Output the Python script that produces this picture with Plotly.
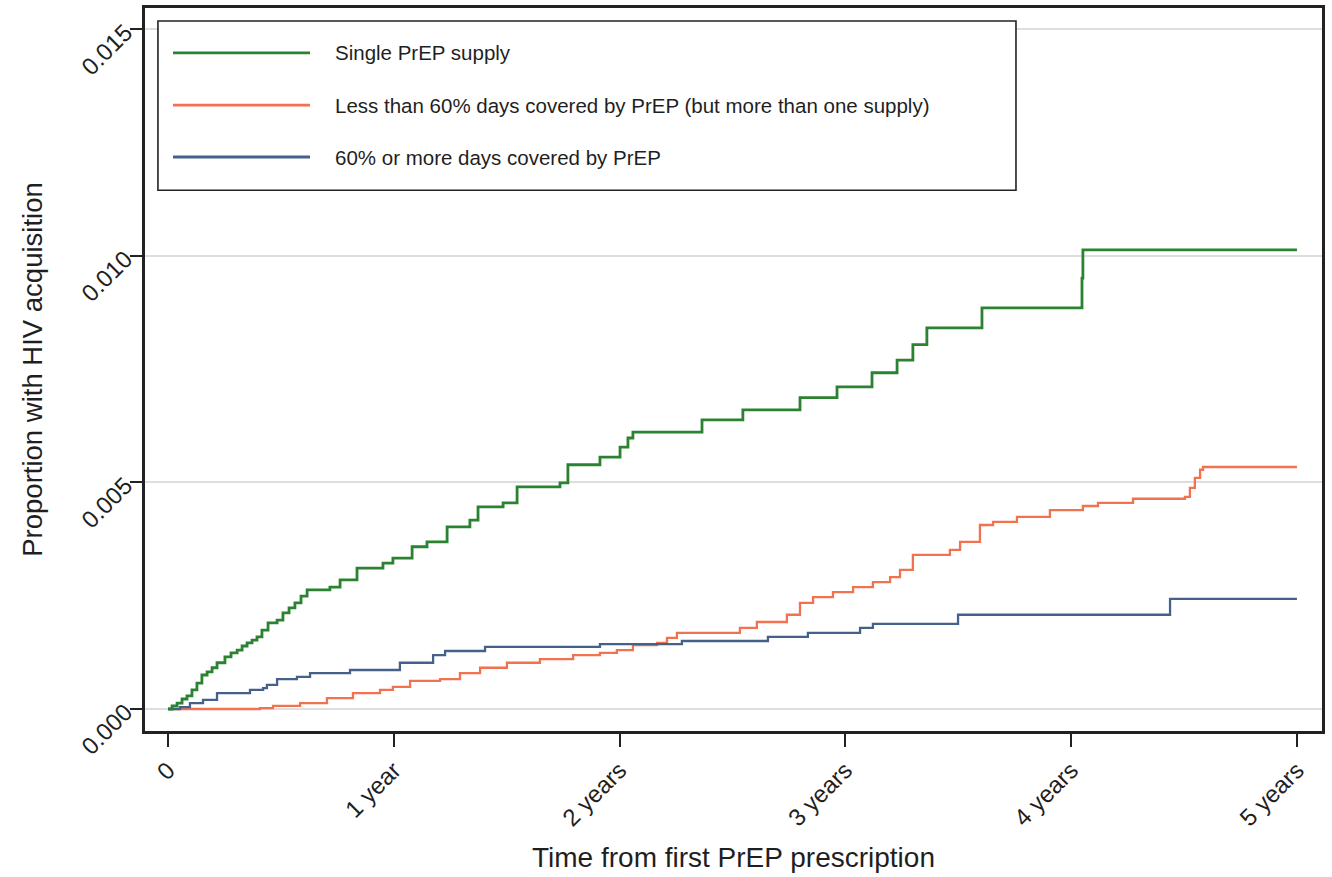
import plotly.graph_objects as go

# ---- data ----
tick_vals_x = [0, 1, 2, 3, 4, 5]
tick_text_x = ["0", "1 year", "2 years", "3 years", "4 years", "5 years"]
tick_vals_y = [0.0, 0.005, 0.010, 0.015]
tick_text_y = ["0.000", "0.005", "0.010", "0.015"]

series_names = [
    "Single PrEP supply",
    "Less than 60% days covered by PrEP (but more than one supply)",
    "60% or more days covered by PrEP",
]

single_t = [0, 0.018, 0.040, 0.062, 0.084, 0.106, 0.128, 0.150, 0.173, 0.195,
            0.217, 0.252, 0.279, 0.306, 0.328, 0.350, 0.372, 0.394, 0.416, 0.443,
            0.483, 0.509, 0.536, 0.562, 0.589, 0.616, 0.717, 0.762, 0.837, 0.952,
            0.996, 1.081, 1.147, 1.236, 1.337, 1.373, 1.484, 1.546, 1.736, 1.771,
            1.913, 2.002, 2.037, 2.059, 2.365, 2.546, 2.799, 2.963, 3.118, 3.229,
            3.299, 3.361, 3.605, 4.048, 4.052, 5.0]
single_v = [0, 0.00007, 0.00013, 0.00022, 0.00029, 0.00042, 0.00057, 0.00075, 0.00082, 0.00091,
            0.00102, 0.00115, 0.00124, 0.00130, 0.00139, 0.00146, 0.00152, 0.00159, 0.00174, 0.00190,
            0.00196, 0.00212, 0.00223, 0.00234, 0.00249, 0.00263, 0.00269, 0.00285, 0.00311, 0.00322,
            0.00333, 0.00358, 0.00369, 0.00402, 0.00417, 0.00446, 0.00455, 0.00490, 0.00499, 0.00539,
            0.00556, 0.00578, 0.00598, 0.00611, 0.00638, 0.00660, 0.00687, 0.00711, 0.00742, 0.00770,
            0.00804, 0.00841, 0.00885, 0.00951, 0.01013, 0.01013]

low_t = [0, 0.407, 0.465, 0.585, 0.704, 0.819, 0.939, 0.996, 1.072, 1.205, 1.293,
         1.382, 1.501, 1.647, 1.794, 1.913, 1.988, 2.059, 2.166, 2.210, 2.254,
         2.533, 2.608, 2.741, 2.799, 2.857, 2.945, 3.034, 3.122, 3.198, 3.242,
         3.299, 3.463, 3.508, 3.596, 3.654, 3.760, 3.906, 4.052, 4.119, 4.274,
         4.504, 4.526, 4.548, 4.571, 4.584, 5.0]
low_v = [0, 0.00002, 0.00007, 0.00013, 0.00024, 0.00035, 0.00042, 0.00049, 0.00062, 0.00066, 0.00079,
         0.00091, 0.00102, 0.00110, 0.00119, 0.00124, 0.00130, 0.00141, 0.00146, 0.00157, 0.00168,
         0.00179, 0.00192, 0.00208, 0.00234, 0.00247, 0.00258, 0.00269, 0.00280, 0.00291, 0.00307,
         0.00340, 0.00351, 0.00369, 0.00406, 0.00413, 0.00424, 0.00439, 0.00448, 0.00455, 0.00464,
         0.00468, 0.00488, 0.00510, 0.00528, 0.00534, 0.00534]

high_t = [0, 0.053, 0.097, 0.155, 0.217, 0.363, 0.421, 0.438, 0.483, 0.571, 0.629,
          0.806, 1.027, 1.174, 1.227, 1.404, 1.913, 2.276, 2.657, 2.834, 3.065,
          3.122, 3.499, 4.438, 5.0]
high_v = [0, 0.00004, 0.00013, 0.00020, 0.00035, 0.00042, 0.00046, 0.00053, 0.00066, 0.00071, 0.00079,
          0.00086, 0.00102, 0.00119, 0.00128, 0.00137, 0.00143, 0.00150, 0.00159, 0.00168, 0.00179,
          0.00188, 0.00208, 0.00243, 0.00243]

colors = ["#2b8231", "#f2714f", "#45618a"]
widths = [2.8, 2.3, 2.3]

FONT = "Arial, 'Liberation Sans', Helvetica, sans-serif"
TXT = "#1f1f1f"

fig = go.Figure()
series = [(single_t, single_v), (low_t, low_v), (high_t, high_v)]
for i in [1, 2, 0]:
    t, v = series[i]
    fig.add_trace(go.Scatter(
        x=t, y=v, mode="lines", name=series_names[i],
        line=dict(color=colors[i], width=widths[i], shape="hv"),
        showlegend=False,
    ))

# ---- hand-drawn legend box (to match long line samples) ----
shapes = [dict(type="rect", xref="paper", yref="paper",
               x0=0.011, x1=0.740, y0=0.748, y1=0.982,
               line=dict(color="#222222", width=1.6), fillcolor="white", layer="above")]
annotations = []
leg_y = [0.9378, 0.8658, 0.7939]
for i in range(3):
    shapes.append(dict(type="line", xref="paper", yref="paper",
                       x0=0.0238, x1=0.1402, y0=leg_y[i], y1=leg_y[i],
                       line=dict(color=colors[i], width=2.8), layer="above"))
    annotations.append(dict(xref="paper", yref="paper", x=0.1597, y=leg_y[i],
                            text=series_names[i], showarrow=False,
                            xanchor="left", yanchor="middle",
                            font=dict(family=FONT, size=20.5, color=TXT)))

fig.update_layout(
    width=1332, height=877,
    margin=dict(l=145, r=10, t=8, b=146),
    paper_bgcolor="white", plot_bgcolor="white",
    font=dict(family=FONT, color=TXT),
    shapes=shapes, annotations=annotations,
    showlegend=False,
)
fig.update_xaxes(
    range=[-0.102, 5.111], automargin=False,
    tickmode="array", tickvals=tick_vals_x, ticktext=tick_text_x,
    tickangle=-45, tickfont=dict(size=24, family=FONT, color=TXT),
    ticks="outside", ticklen=13, tickwidth=2, tickcolor="#222222",
    showgrid=False, zeroline=False,
    showline=True, linecolor="#222222", linewidth=2.5, mirror=True,
    title=dict(text="Time from first PrEP prescription",
               font=dict(size=28, family=FONT, color=TXT), standoff=18),
)
fig.update_yaxes(
    range=[-0.000486, 0.01547], automargin=False,
    tickmode="array", tickvals=tick_vals_y, ticktext=tick_text_y,
    tickangle=-45, tickfont=dict(size=24, family=FONT, color=TXT),
    ticks="outside", ticklen=12, tickwidth=2, tickcolor="#222222",
    showgrid=True, gridcolor="#dedede", gridwidth=2,
    zeroline=False,
    showline=True, linecolor="#222222", linewidth=2.5, mirror=True,
    title=dict(text="Proportion with HIV acquisition",
               font=dict(size=27.5, family=FONT, color=TXT), standoff=26),
)

fig.write_html("out.html",
               config={"displayModeBar": False},
               post_script="document.body.style.margin='0';document.body.style.overflow='hidden';")
